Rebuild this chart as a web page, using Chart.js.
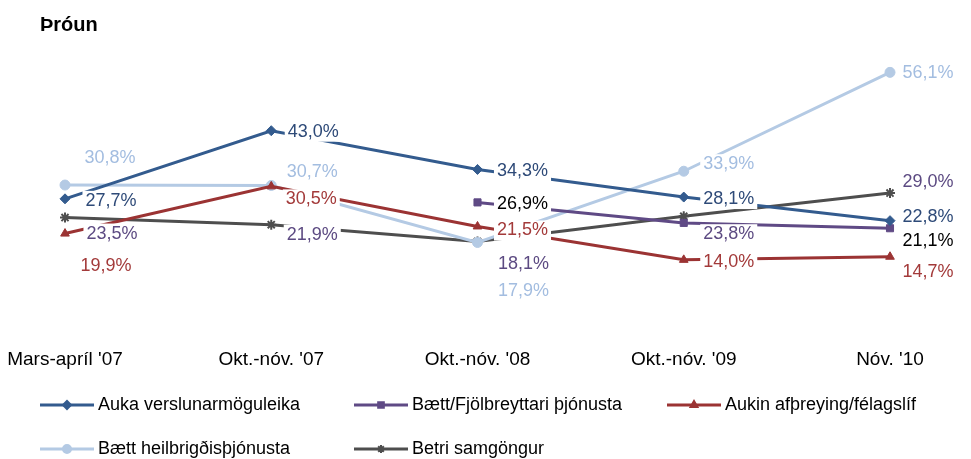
<!DOCTYPE html>
<html>
<head>
<meta charset="utf-8">
<script src="https://cdn.jsdelivr.net/npm/chart.js@4/dist/chart.umd.min.js"></script>
<style>
    html, body { margin: 0; padding: 0; background: #fff; }
    #wrap { width: 971px; height: 459px; position: relative; }
</style>
</head>
<body>
<div id="wrap"><canvas id="chart"></canvas></div>
<script>
const periods = ["Mars-apríl '07", "Okt.-nóv. '07", "Okt.-nóv. '08", "Okt.-nóv. '09", "Nóv. '10"];

const verslun = [27.7, 43.0, 34.3, 28.1, 22.8];
const thjonusta = [null, null, 26.9, 22.3, 21.1];
const afthreying = [19.9, 30.5, 21.5, 14.0, 14.7];
const heilbrigdi = [30.8, 30.7, 17.9, 33.9, 56.1];
const samgongur = [23.5, 21.9, 18.1, 23.8, 29.0];

const seriesNames = [
    'Auka verslunarmöguleika',
    'Bætt/Fjölbreyttari þjónusta',
    'Aukin afþreying/félagslíf',
    'Bætt heilbrigðisþjónusta',
    'Betri samgöngur'
];

const lineColors = ['#335b8e', '#5f4a85', '#9b3333', '#b4cae4', '#4e4e4e'];
const textColors = ['#2e4a78', '#000000', '#a33a3a', '#a3bde0', '#5c4a82'];
const markers = ['rectRot', 'rect', 'triangle', 'circle', 'star'];

// label offsets from the point (dx, dy), null = no label
const labelOffsets = [
    [[46, 2], [42, 1], [45, 2], [45, 2], [38, -4]],
    [null, null, [45, 2], null, [38, 13]],
    [[41, 32], [40, 13], [45, 4], [45, 2], [38, 15]],
    [[45, -27], [41, -13], [46, 49], [45, -7], [38, 1]],
    [[47, 16], [41, 10], [46, 22], [45, 18], [38, -11]]
];

const allData = [verslun, thjonusta, afthreying, heilbrigdi, samgongur];

const fmt = v => v.toFixed(1).replace('.', ',') + '%';

const valueLabels = {
    id: 'valueLabels',
    afterDatasetsDraw(chart) {
        const ctx = chart.ctx;
        ctx.save();
        ctx.font = '18px "Liberation Sans", Arial, sans-serif';
        ctx.textAlign = 'center';
        ctx.textBaseline = 'middle';
        chart.data.datasets.forEach((ds, i) => {
            const meta = chart.getDatasetMeta(i);
            meta.data.forEach((pt, j) => {
                const off = labelOffsets[i][j];
                if (ds.data[j] == null || !off) return;
                const x = pt.x + off[0];
                const y = pt.y + off[1];
                const txt = fmt(ds.data[j]);
                const w = ctx.measureText(txt).width;
                ctx.fillStyle = '#ffffff';
                ctx.fillRect(x - w / 2 - 3, y - 10, w + 6, 20);
                ctx.fillStyle = textColors[i];
                ctx.fillText(txt, x, y);
            });
        });
        ctx.restore();
    }
};

function drawMarker(ctx, style, x, y, r) {
    Chart.helpers.drawPoint(ctx, {
        pointStyle: style, radius: r, borderWidth: style === 'star' ? 2 : 1, rotation: 0
    }, x, y);
}

// title and legend drawn by hand so they can sit left of the plot area
const titleAndLegend = {
    id: 'titleAndLegend',
    afterDraw(chart) {
        const ctx = chart.ctx;
        ctx.save();
        ctx.fillStyle = '#000';
        ctx.font = 'bold 20px "Liberation Sans", Arial, sans-serif';
        ctx.textBaseline = 'middle';
        ctx.textAlign = 'left';
        ctx.fillText('Þróun', 40, 25);

        const cols = [40, 354, 667];
        const rows = [405, 449];
        ctx.font = '18px "Liberation Sans", Arial, sans-serif';
        seriesNames.forEach((name, i) => {
            const x = cols[i % 3];
            const y = rows[Math.floor(i / 3)];
            ctx.strokeStyle = lineColors[i];
            ctx.fillStyle = lineColors[i];
            ctx.lineWidth = 3;
            ctx.beginPath();
            ctx.moveTo(x, y);
            ctx.lineTo(x + 54, y);
            ctx.stroke();
            ctx.lineWidth = 2;
            drawMarker(ctx, markers[i], x + 27, y, 4);
            ctx.fillStyle = '#000';
            ctx.fillText(name, x + 58, y);
        });
        ctx.restore();
    }
};

new Chart(document.getElementById('chart'), {
    type: 'line',
    data: {
        labels: periods,
        datasets: allData.map((d, i) => ({
            label: seriesNames[i],
            data: d,
            borderColor: lineColors[i],
            backgroundColor: lineColors[i],
            pointBackgroundColor: lineColors[i],
            pointBorderColor: lineColors[i],
            borderWidth: 3,
            pointStyle: markers[i],
            pointRadius: 5,
            pointBorderWidth: markers[i] === 'star' ? 2 : 1,
            tension: 0,
            spanGaps: false
        }))
    },
    options: {
        responsive: true,
        maintainAspectRatio: false,
        animation: false,
        layout: { padding: { left: 40, right: 81, top: 55, bottom: 62 } },
        plugins: {
            legend: { display: false },
            tooltip: { enabled: false },
            title: { display: false }
        },
        scales: {
            x: {
                offset: false,
                grid: { display: false, drawTicks: false },
                border: { display: false },
                ticks: {
                    color: '#000',
                    padding: 26,
                    maxRotation: 0,
                    autoSkip: false,
                    font: { family: '"Liberation Sans", Arial, sans-serif', size: 19 }
                },
                afterFit(scale) { scale.paddingLeft = 0; scale.paddingRight = 0; }
            },
            y: {
                min: 0,
                max: 60,
                grid: { display: false, drawTicks: false },
                border: { display: false },
                ticks: { display: false },
                afterFit(scale) { scale.width = 25; }
            }
        }
    },
    plugins: [valueLabels, titleAndLegend]
});
</script>
</body>
</html>
